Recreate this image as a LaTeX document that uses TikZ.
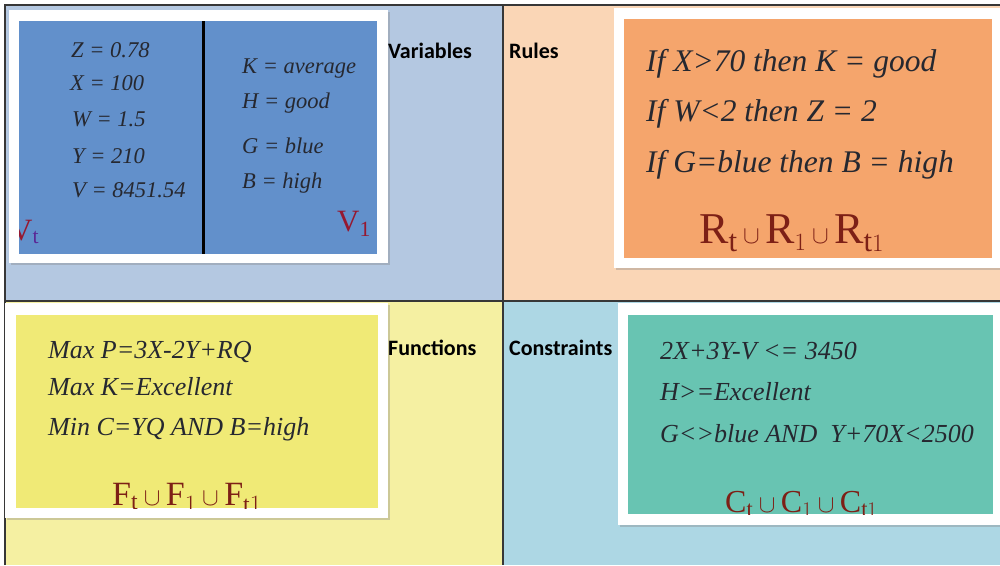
\documentclass[tikz,border=0pt]{standalone}
\usepackage{fontspec}
\setmainfont{Liberation Serif}
\newfontfamily\labelfont{Carlito}
\usetikzlibrary{shadows}
\definecolor{VarClr}{RGB}{180,200,225}
\definecolor{RuleClr}{RGB}{250,214,182}
\definecolor{FuncClr}{RGB}{245,240,162}
\definecolor{ConsClr}{RGB}{173,215,228}
\definecolor{VarBoxClr}{RGB}{98,144,203}
\definecolor{RuleBoxClr}{RGB}{245,165,108}
\definecolor{FuncBoxClr}{RGB}{240,234,118}
\definecolor{ConsBoxClr}{RGB}{104,196,178}
\definecolor{TextClr}{RGB}{38,40,48}
\definecolor{SetClr}{RGB}{125,32,22}
\definecolor{VClr}{RGB}{150,24,48}
\definecolor{SubClr}{RGB}{90,40,150}
\definecolor{LineClr}{RGB}{55,55,55}

\begin{document}
\begin{tikzpicture}[x=1pt,y=-1pt,
  catlabel/.style={anchor=base west,inner sep=0pt,font=\labelfont\bfseries\fontsize{22}{24}\selectfont},
  vartext/.style={anchor=base west,inner sep=0pt,text=TextClr,font=\itshape\fontsize{22.5}{26}\selectfont},
  ruletext/.style={anchor=base west,inner sep=0pt,text=TextClr,font=\itshape\fontsize{31.5}{34}\selectfont},
  functext/.style={anchor=base west,inner sep=0pt,text=TextClr,font=\itshape\fontsize{26}{28}\selectfont},
  setlabel/.style={anchor=base west,inner sep=0pt,text=SetClr},
  frame/.style={fill=white,drop shadow={shadow xshift=2pt,shadow yshift=-2pt,opacity=.35}},
]
\clip (0,0) rectangle (1000,565);
\useasboundingbox (0,0) rectangle (1000,565);

\fill[VarClr] (5,5) rectangle (503,301);
\fill[RuleClr] (503,5) rectangle (1000,301);
\fill[FuncClr] (5,301) rectangle (503,565);
\fill[ConsClr] (503,301) rectangle (1000,565);
\draw[LineClr,line width=1.2pt] (5,565) -- (5,5) -- (1000,5);
\draw[LineClr,line width=1.2pt] (503,5) -- (503,565);
\draw[LineClr,line width=1.2pt] (5,301) -- (1000,301);

% frames
\path[frame] (9,10) rectangle (388,263);
\path[frame] (614,8) rectangle (1010,268);
\path[frame] (5,303) rectangle (388,518);
\path[frame] (618,303) rectangle (1010,525);

\fill[VarBoxClr] (19,21) rectangle (377,254);
\fill[RuleBoxClr] (624,19) rectangle (992,258);
\fill[FuncBoxClr] (16,315) rectangle (378,508);
\fill[ConsBoxClr] (628,315) rectangle (993,514);
\draw[black,line width=3pt] (203,21) -- (203,254);

% variables
\node[vartext] (z) at (71,57) {Z = 0.78};
\node[vartext] (x) at (70,90) {X = 100};
\node[vartext] (w) at (72,126) {W = 1.5};
\node[vartext] (y) at (72,163) {Y = 210};
\node[vartext] (v) at (72,197) {V = 8451.54};
\node[vartext] (k) at (242,73) {K = average};
\node[vartext] (h) at (242,108) {H = good};
\node[vartext] (g) at (242,153) {G = blue};
\node[vartext] (b) at (242,188) {B = high};
\node[setlabel,text=VClr,font=\fontsize{31}{34}\selectfont] (vone) at (337,231) {V\textsubscript{1}};
\begin{scope}
\clip (19,21) rectangle (377,254);
\node[setlabel,text=VClr,font=\fontsize{31}{34}\selectfont] (vt) at (10,240) {V\textsubscript{\textcolor{SubClr}{t}}};
\end{scope}

% rules
\node[ruletext] (r1) at (646,71) {If X>70 then K = good};
\node[ruletext] (r2) at (646,121) {If W<2 then Z = 2};
\node[ruletext] (r3) at (646,172) {If G=blue then B = high};
\node[setlabel,font=\fontsize{44}{48}\selectfont] (rset) at (699,243) {$\mathrm{R}_{\mathrm{t}}\cup\mathrm{R}_{1}\cup\mathrm{R}_{\mathrm{t}1}$};

% functions
\node[functext] (f1) at (48,358) {Max P=3X-2Y+RQ};
\node[functext] (f2) at (48,395) {Max K=Excellent};
\node[functext] (f3) at (48,435) {Min C=YQ AND B=high};
\begin{scope}
\clip (16,315) rectangle (378,508);
\node[setlabel,font=\fontsize{34}{36}\selectfont] (fset) at (112,505) {$\mathrm{F}_{\mathrm{t}}\cup\mathrm{F}_{1}\cup\mathrm{F}_{\mathrm{t}1}$};
\end{scope}

% constraints
\node[functext] (c1) at (660,359) {2X+3Y-V <= 3450};
\node[functext] (c2) at (660,400) {H>=Excellent};
\node[functext] (c3) at (660,442) {G<>blue AND\ \ Y+70X<2500};
\begin{scope}
\clip (628,315) rectangle (993,514);
\node[setlabel,font=\fontsize{32}{34}\selectfont] (cset) at (725,512) {$\mathrm{C}_{\mathrm{t}}\cup\mathrm{C}_{1}\cup\mathrm{C}_{\mathrm{t}1}$};
\end{scope}

\node[catlabel] (varlab) at (388,58) {Variables};
\node[catlabel] (rulelab) at (509,58) {Rules};
\node[catlabel] (funclab) at (388,355) {Functions};
\node[catlabel] (conslab) at (509,355) {Constraints};
\end{tikzpicture}
\end{document}
